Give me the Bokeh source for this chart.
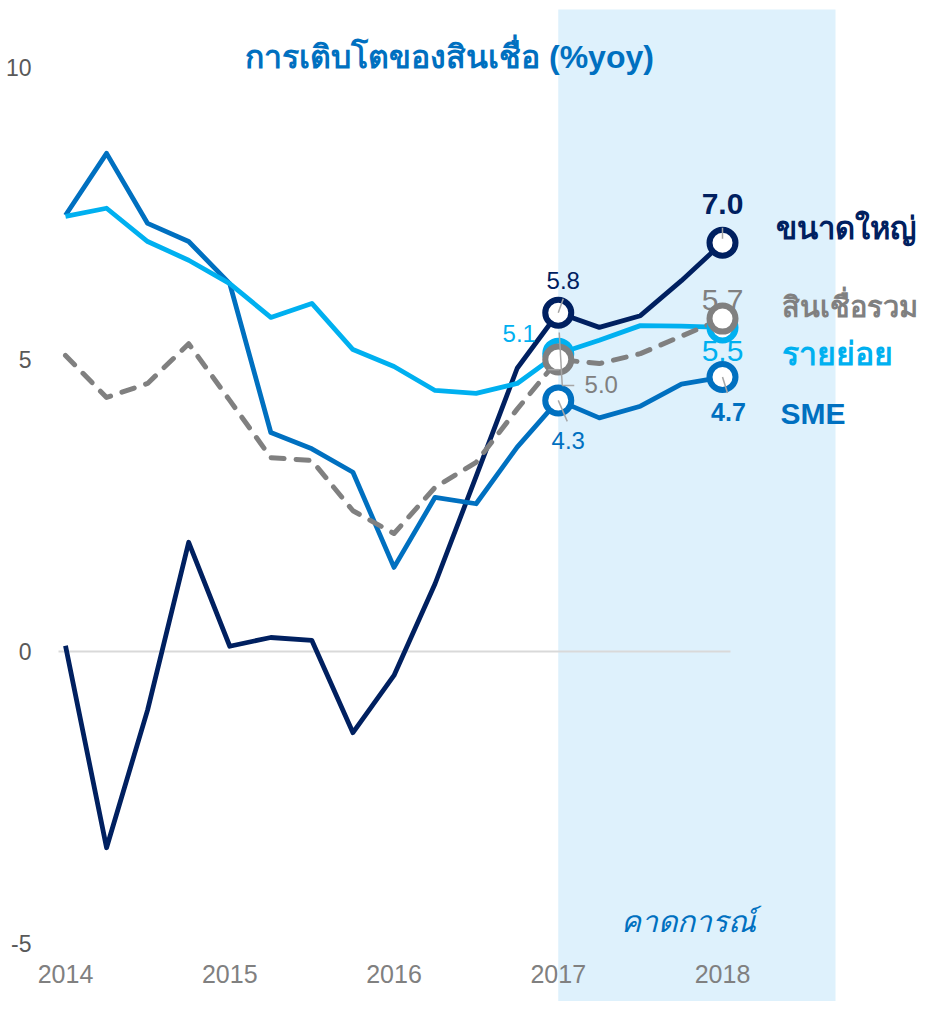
from bokeh.plotting import figure
from bokeh.models import BoxAnnotation, FixedTicker
from bokeh.core.properties import value
from bokeh.embed import file_html
from bokeh.resources import INLINE

# ---------------- data ----------------
periods = [2014.0, 2014.25, 2014.5, 2014.75,
           2015.0, 2015.25, 2015.5, 2015.75,
           2016.0, 2016.25, 2016.5, 2016.75,
           2017.0, 2017.25, 2017.5, 2017.75,
           2018.0]
large = [0.1, -3.36, -1.0, 1.87, 0.09, 0.24, 0.19, -1.39, -0.41, 1.16, 3.0, 4.85, 5.8, 5.55, 5.75, 6.35, 7.0]
sme = [7.47, 8.53, 7.33, 7.02, 6.3, 3.75, 3.47, 3.07, 1.44, 2.64, 2.53, 3.5, 4.3, 4.0, 4.2, 4.58, 4.7]
retail = [7.45, 7.59, 7.02, 6.7, 6.3, 5.72, 5.96, 5.17, 4.88, 4.47, 4.42, 4.59, 5.1, 5.33, 5.58, 5.57, 5.55]
total = [5.07, 4.35, 4.59, 5.27, 4.3, 3.32, 3.27, 2.41, 2.02, 2.81, 3.24, 4.15, 5.0, 4.93, 5.1, 5.4, 5.7]

series_names = ["ขนาดใหญ่", "สินเชื่อรวม", "รายย่อย", "SME"]
labels_2017 = ["5.8", "5.0", "5.1", "4.3"]
labels_2018 = ["7.0", "5.7", "5.5", "4.7"]
y_ticks = [-5, 0, 5, 10]
y_tick_text = {-5: "-5", 0: "0", 5: "5", 10: "10"}
x_ticks = [2014, 2015, 2016, 2017, 2018]
forecast_start = 2017.0
title_text = "การเติบโตของสินเชื่อ (%yoy)"
forecast_text = "คาดการณ์"

# ---------------- style ----------------
NAVY = "#002060"
BLUE = "#0070C0"
LIGHT = "#00B0F0"
GRAY = "#808080"
LEADER = "#A6A6A6"
SHADE = "#DEF1FC"
FONT = value("Liberation Sans")

W, H = 924, 1001
PX_X = 164.25   # pixels per year
PX_Y = 58.4     # pixels per percentage point
x_start = 2014 - 65 / PX_X
x_end = x_start + W / PX_X
y_end = 651 / PX_Y
y_start = y_end - H / PX_Y


def ox(px):
    return px / PX_X


def oy(px):  # px downward on screen -> data units
    return -px / PX_Y


p = figure(width=W, height=H, x_range=(x_start, x_end), y_range=(y_start, y_end),
           output_backend="svg", toolbar_location=None, min_border=0)
p.min_border_left = 0
p.min_border_right = 0
p.min_border_top = 0
p.min_border_bottom = 0
p.outline_line_color = None
p.background_fill_color = "white"
p.border_fill_color = "white"
p.xgrid.visible = False
p.ygrid.visible = False

# axes drawn at fixed data positions (take no layout space)
p.yaxis.fixed_location = 2014 - (65 - 45) / PX_X
p.xaxis.fixed_location = (651 - 954) / PX_Y
for ax in (p.xaxis, p.yaxis):
    ax.axis_line_color = None
    ax.major_tick_line_color = None
    ax.minor_tick_line_color = None
    ax.major_label_text_font = "Liberation Sans"
p.yaxis.ticker = FixedTicker(ticks=y_ticks)
p.yaxis.major_label_overrides = y_tick_text
p.xaxis.ticker = FixedTicker(ticks=x_ticks)
p.yaxis.major_label_text_font_size = "23px"
p.yaxis.major_label_text_color = "#595959"
p.yaxis.major_label_standoff = 8
p.xaxis.major_label_text_font_size = "25px"
p.xaxis.major_label_text_color = "#808080"
p.xaxis.major_label_standoff = 4

# forecast shading
shade = BoxAnnotation(left=forecast_start, right=periods[-1] + ox(835 - 722), top=y_end + oy(9),
                      fill_color=SHADE, fill_alpha=1.0, line_color=None, level="underlay")
p.add_layout(shade)

# zero line
p.line([periods[0] - ox(7), periods[-1] + ox(8)], [0, 0], line_color="#D9D9D9", line_width=2)

# series lines
p.line(periods, large, line_color=NAVY, line_width=4.8, line_join="round")
p.line(periods, sme, line_color=BLUE, line_width=4.8, line_join="round")
p.line(periods, retail, line_color=LIGHT, line_width=4.8, line_join="round")
p.line(periods, total, line_color=GRAY, line_width=5, line_dash="13 12", line_cap="round",
       line_join="round")

i17 = periods.index(2017.0)
i18 = len(periods) - 1
x17, x18 = periods[i17], periods[i18]


# value labels
def lab(x, y, t, color, size, bold=False):
    p.text([x], [y], text=[t], text_font=FONT, text_font_size=size, text_color=color,
           text_align="center", text_baseline="middle",
           text_font_style="bold" if bold else "normal")


lab(x17 + ox(5), large[i17] + oy(-32), labels_2017[0], NAVY, "24px")
lab(x17 + ox(43), total[i17] + oy(25), labels_2017[1], GRAY, "24px")
lab(x17 + ox(-39), retail[i17] + oy(-20), labels_2017[2], LIGHT, "24px")
lab(x17 + ox(10), sme[i17] + oy(40), labels_2017[3], BLUE, "24px")

lab(x18, large[i18] + oy(-39), labels_2018[0], NAVY, "30px", True)
lab(x18, total[i18] + oy(-19), labels_2018[1], GRAY, "30px")
lab(x18, retail[i18] + oy(24), labels_2018[2], LIGHT, "30px")
lab(x18 + ox(6), sme[i18] + oy(35), labels_2018[3], BLUE, "25px", True)

# end markers
for ser, col in ((retail, LIGHT), (total, GRAY), (sme, BLUE), (large, NAVY)):
    p.scatter([x17, x18], [ser[i17], ser[i18]], size=26, fill_color="white",
              line_color=col, line_width=6)

# leader lines
segs = [
    (x17, large[i17], x17 + ox(5), large[i17] + oy(-14)),
    (x17 - ox(10), retail[i17] + oy(-21 + 37), x17 + ox(1), retail[i17] + oy(-21 + 37)),
    (x17 + ox(1), total[i17] + oy(-27), x17 + ox(4), total[i17] + oy(26)),
    (x17 + ox(4), total[i17] + oy(26), x17 + ox(16), total[i17] + oy(26)),
    (x17, sme[i17], x17 + ox(9), sme[i17] + oy(21)),
    (x18, large[i18] + oy(-4), x18, large[i18] + oy(-15)),
    (x18, sme[i18], x18 + ox(5), sme[i18] + oy(16)),
]
p.segment([s[0] for s in segs], [s[1] for s in segs], [s[2] for s in segs], [s[3] for s in segs],
          line_color=LEADER, line_width=1.5)

# series names
name_colors = [NAVY, GRAY, LIGHT, BLUE]
name_sizes = ["31px", "29px", "32px", "30px"]
name_vals = [large[i18] + oy(-14), total[i18] + oy(-12), retail[i18] + oy(27), sme[i18] + oy(36)]
name_x = [x18 + ox(53), x18 + ox(59), x18 + ox(59), x18 + ox(58)]
for nx, ny, t, c, s in zip(name_x, name_vals, series_names, name_colors, name_sizes):
    p.text([nx], [ny], text=[t], text_font=FONT, text_font_size=s, text_color=c,
           text_align="left", text_baseline="middle", text_font_style="bold")

# title
p.text([2014 + (449 - 65) / PX_X], [(651 - 56) / PX_Y], text=[title_text], text_font=FONT,
       text_font_size="32px", text_color=BLUE, text_align="center", text_baseline="middle",
       text_font_style="bold")

# forecast label
p.text([forecast_start + ox(620 - 557)], [(651 - 921) / PX_Y], text=[forecast_text],
       text_font=FONT, text_font_size="30px", text_color=BLUE, text_align="left",
       text_baseline="middle", text_font_style="italic")

open("out.html", "w").write(file_html(p, INLINE))
